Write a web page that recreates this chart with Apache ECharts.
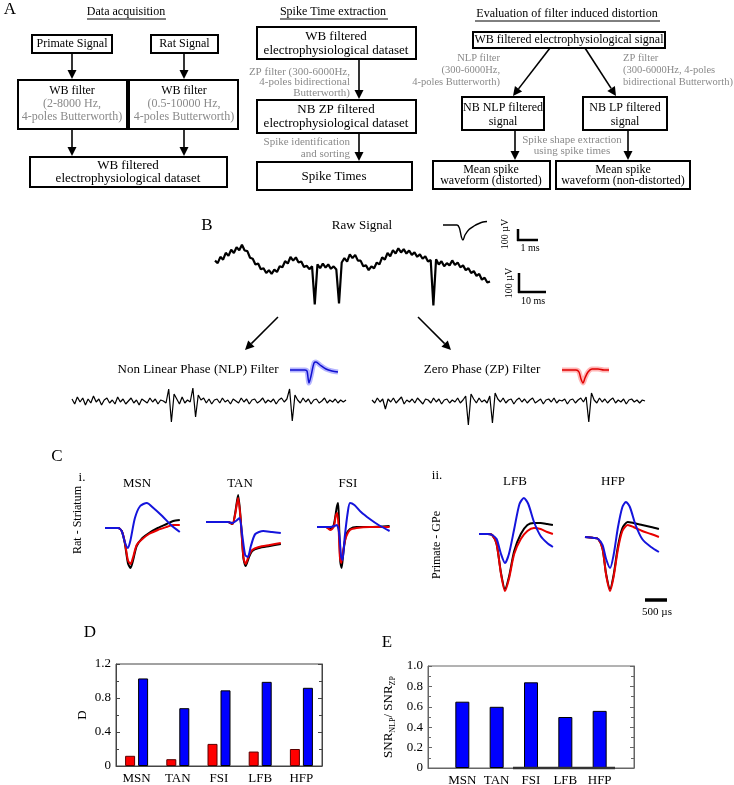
<!DOCTYPE html>
<html><head><meta charset="utf-8">
<script src="https://cdn.jsdelivr.net/npm/echarts@6/dist/echarts.min.js"></script>
<style>html,body{margin:0;padding:0;background:#fff}#c{width:734px;height:785px}</style>
</head><body><div id="c"></div><script>
// ---------------- data ----------------
const categories = ['MSN','TAN','FSI','LFB','HFP'];
const dZP  = [0.12,0.08,0.26,0.17,0.20];
const dNLP = [1.03,0.68,0.89,0.99,0.92];
const snrRatio = [0.65,0.60,0.84,0.50,0.56];
const dTickLabels = ['0','0.4','0.8','1.2'];
const eTickLabels = ['0','0.2','0.4','0.6','0.8','1.0'];

// raw signal, 1 ms steps, µV
const rawSignal = [25,12,45,30,66,50,82,65,95,80,108,78,75,40,35,5,10,-20,-15,-40,-25,-45,-22,-35,-5,-10,22,10,44,25,42,15,20,-8,-2,-20,-5,-205,5,-15,10,-12,5,-18,-5,-22,-200,15,38,20,58,38,55,25,25,-5,0,-25,-5,-15,15,5,42,30,65,48,80,62,90,68,85,62,78,55,68,45,58,35,48,20,28,-210,32,5,22,-5,12,0,26,2,15,-10,0,-25,-15,-40,-30,-55,-45,-75,-65,-90,-85];
const nlpSignal = [10,-15,20,-5,15,-20,10,-10,25,-5,10,-20,5,15,-10,5,-15,20,-5,10,-15,0,15,-10,5,-20,10,0,-10,15,-5,10,-15,5,0,-10,60,-105,35,10,-15,20,-10,5,-5,65,-80,30,5,15,-10,10,-15,5,10,-10,15,-5,5,-15,10,0,-10,15,-5,10,-15,5,10,-10,0,15,-10,5,-5,10,-15,5,15,-5,10,60,-100,30,5,-10,15,-5,10,-15,5,10,-10,0,15,-10,5,-5,10,-10,5,-5,5];
const zpSignal = [5,-10,15,-5,10,-40,10,-5,15,-10,5,20,-15,5,-5,10,-10,15,0,-15,10,5,-10,15,-5,10,-15,5,10,-10,5,-5,15,-10,5,25,-120,35,10,-10,15,-5,5,-10,25,-110,40,10,-5,15,-10,5,10,-15,5,15,-5,10,-10,5,15,-10,0,10,-15,5,10,-5,15,-10,5,0,10,-15,5,10,-10,5,15,-5,20,-105,40,5,-10,15,-5,10,-10,5,15,-10,5,-5,10,-15,5,10,-5,5,-10,5,0];
const rawSpikeIcon = [[0,0],[0.7,0],[0.82,-30],[0.92,-120],[1.0,-150],[1.1,-100],[1.3,-45],[1.55,-10],[1.8,15],[2.0,30],[2.2,35]];
const nlpSpikeIcon = [[0,0],[0.75,0],[0.85,-10],[0.95,-130],[1.05,-60],[1.2,70],[1.3,80],[1.5,50],[1.8,10],[2.1,-10],[2.4,-20]];
const zpSpikeIcon  = [[0,0],[0.7,0],[0.85,-20],[0.95,-90],[1.05,-130],[1.15,-80],[1.3,-20],[1.5,10],[1.8,10],[2.1,0],[2.35,0]];

// mean waveforms (ms, relative amplitude)
const msnBlack = [[0,0],[0.3,0],[0.38,-3],[0.45,-15],[0.52,-35],[0.58,-40],[0.64,-32],[0.72,-18],[0.85,-10],[1.0,-5],[1.2,0],[1.4,4],[1.55,7],[1.7,8]];
const msnRed   = [[0,0],[0.3,0],[0.38,-3],[0.45,-14],[0.52,-32],[0.58,-36],[0.64,-29],[0.72,-17],[0.85,-11],[1.0,-6],[1.2,-2],[1.4,1],[1.55,3],[1.7,3]];
const msnBlue  = [[0,0],[0.3,0],[0.38,-3],[0.45,-14],[0.52,-20],[0.58,-12],[0.68,10],[0.8,22],[0.95,25],[1.1,20],[1.3,12],[1.5,3],[1.7,-4]];
const tanBlack = [[0,0],[0.5,0],[0.6,-2],[0.66,8],[0.73,27],[0.79,2],[0.85,-36],[0.9,-44],[0.97,-36],[1.05,-29],[1.2,-26],[1.45,-24],[1.7,-22]];
const tanRed   = [[0,0],[0.5,0],[0.6,-2],[0.66,7],[0.73,24],[0.79,1],[0.85,-35],[0.9,-42],[0.97,-34],[1.05,-28],[1.2,-25],[1.45,-23],[1.7,-21]];
const tanBlue  = [[0,0],[0.5,0],[0.6,-1],[0.68,1],[0.76,4],[0.82,-12],[0.89,-33],[0.95,-35],[1.02,-24],[1.12,-12],[1.3,-9],[1.5,-10],[1.7,-11]];
const fsiBlack = [[0,0],[0.2,0],[0.3,-2],[0.38,2],[0.45,20],[0.48,24],[0.5,5],[0.53,-35],[0.56,-41],[0.6,-25],[0.66,-8],[0.75,-2],[0.9,0],[1.2,0],[1.65,1]];
const fsiRed   = [[0,0],[0.2,0],[0.3,-3],[0.38,0],[0.43,12],[0.46,14],[0.49,0],[0.52,-30],[0.55,-36],[0.6,-22],[0.66,-10],[0.75,-3],[0.9,-1],[1.2,0],[1.65,0]];
const fsiBlue  = [[0,0],[0.2,0],[0.3,0],[0.4,1],[0.45,2],[0.5,-5],[0.55,-30],[0.58,-33],[0.63,-10],[0.7,15],[0.75,24],[0.85,22],[1.0,15],[1.2,8],[1.4,2],[1.65,-4]];
const lfbBlack = [[0,0],[0.2,0],[0.3,-1],[0.4,-10],[0.5,-39],[0.59,-55],[0.68,-43],[0.8,-17],[0.95,0],[1.1,9],[1.25,11],[1.4,11],[1.55,10],[1.68,9]];
const lfbRed   = [[0,0],[0.2,0],[0.3,-1],[0.4,-10],[0.5,-40],[0.59,-57],[0.68,-45],[0.8,-20],[0.95,-5],[1.1,3],[1.25,6],[1.4,5],[1.55,2],[1.68,0]];
const lfbBlue  = [[0,0],[0.2,0],[0.3,-1],[0.4,-5],[0.5,-20],[0.59,-29],[0.68,-20],[0.8,5],[0.92,30],[1.02,36],[1.12,30],[1.25,12],[1.4,-2],[1.55,-9],[1.68,-13]];
const hfpBlack = [[0,0],[0.2,-1],[0.3,-2],[0.4,-12],[0.48,-37],[0.57,-52],[0.65,-38],[0.75,-9],[0.85,9],[0.97,15],[1.1,14],[1.3,12],[1.5,10],[1.68,8]];
const hfpRed   = [[0,0],[0.2,-1],[0.3,-2],[0.4,-12],[0.48,-38],[0.57,-54],[0.65,-40],[0.75,-12],[0.85,6],[0.97,12],[1.1,10],[1.3,6],[1.5,3],[1.68,0]];
const hfpBlue  = [[0,0],[0.2,-1],[0.3,-2],[0.4,-8],[0.48,-22],[0.57,-31],[0.65,-18],[0.75,10],[0.85,30],[0.93,35],[1.02,30],[1.15,12],[1.3,-2],[1.5,-10],[1.68,-15]];

// ---------------- helpers ----------------
const SERIF = '"Liberation Serif","DejaVu Serif",serif';
const GRAY = '#8a8a8a';
const RED = '#e80000', BLUE = '#1414dc';
const G = [];
function txt(x,y,text,size,o){o=o||{};return {type:'text',x:x,y:y,rotation:o.rot||0,z:20,style:{text:text,font:size+'px '+SERIF,fill:o.fill||'#000',align:o.align||'center',verticalAlign:'middle'}};}
function box(x1,y1,x2,y2){return {type:'rect',z:10,shape:{x:x1,y:y1,width:x2-x1,height:y2-y1},style:{fill:'none',stroke:'#000',lineWidth:2}};}
function ln(x1,y1,x2,y2,w,c){return {type:'line',z:10,shape:{x1:x1,y1:y1,x2:x2,y2:y2},style:{stroke:c||'#000',lineWidth:w||1.5}};}
function arrow(x1,y1,x2,y2,w){const dx=x2-x1,dy=y2-y1,L=Math.hypot(dx,dy),ux=dx/L,uy=dy/L,h=9,hw=4.5;const bx=x2-ux*h,by=y2-uy*h;
  G.push(ln(x1,y1,bx,by,w||1.6));
  G.push({type:'polygon',z:10,shape:{points:[[x2,y2],[bx-uy*hw,by+ux*hw],[bx+uy*hw,by-ux*hw]]},style:{fill:'#000'}});}

// ---- Panel A ----
G.push(txt(10,10,'A',17));
G.push(txt(126,12,'Data acquisition',12)); G.push(ln(87,19,166,19,1));
G.push(txt(333,12,'Spike Time extraction',12)); G.push(ln(280,19,388,19,1));
G.push(txt(567,14,'Evaluation of filter induced distortion',12)); G.push(ln(475,21,660,21,1));
// left column
G.push(box(32,35,112,53)); G.push(txt(72,44,'Primate Signal',12));
G.push(box(151,35,218,53)); G.push(txt(184.5,44,'Rat Signal',12));
arrow(72,53,72,79); arrow(184,53,184,79);
G.push(box(18,80,127,129)); G.push(txt(72,91,'WB filter',12)); G.push(txt(72,104,'(2-8000 Hz,',12,{fill:GRAY})); G.push(txt(72,117,'4-poles Butterworth)',12,{fill:GRAY}));
G.push(box(129,80,238,129)); G.push(txt(184,91,'WB filter',12)); G.push(txt(184,104,'(0.5-10000 Hz,',12,{fill:GRAY})); G.push(txt(184,117,'4-poles Butterworth)',12,{fill:GRAY}));
arrow(72,129,72,156); arrow(184,129,184,156);
G.push(box(30,157,227,187)); G.push(txt(128,166,'WB filtered',13)); G.push(txt(128,179,'electrophysiological dataset',13));
// middle column
G.push(box(257,27,416,59)); G.push(txt(336,37,'WB filtered',13)); G.push(txt(336,51,'electrophysiological dataset',13));
arrow(359,59,359,99);
G.push(txt(350,72,'ZP filter (300-6000Hz,',11,{fill:GRAY,align:'right'}));
G.push(txt(350,82,'4-poles bidirectional',11,{fill:GRAY,align:'right'}));
G.push(txt(350,93,'Butterworth)',11,{fill:GRAY,align:'right'}));
G.push(box(257,100,416,133)); G.push(txt(336,110,'NB ZP filtered',13)); G.push(txt(336,124,'electrophysiological dataset',13));
arrow(359,133,359,161);
G.push(txt(350,142,'Spike identification',11,{fill:GRAY,align:'right'}));
G.push(txt(350,154,'and sorting',11,{fill:GRAY,align:'right'}));
G.push(box(257,162,412,190)); G.push(txt(334,177,'Spike Times',13));
// right column
G.push(box(473,32,665,48)); G.push(txt(569,40,'WB filtered electrophysiological signal',12));
arrow(550,48,513,96); arrow(585,48,616,96);
G.push(txt(500,58,'NLP filter',10.5,{fill:GRAY,align:'right'}));
G.push(txt(500,70,'(300-6000Hz,',10.5,{fill:GRAY,align:'right'}));
G.push(txt(500,82,'4-poles Butterworth)',10.5,{fill:GRAY,align:'right'}));
G.push(txt(623,58,'ZP filter',10.5,{fill:GRAY,align:'left'}));
G.push(txt(623,70,'(300-6000Hz, 4-poles',10.5,{fill:GRAY,align:'left'}));
G.push(txt(623,82,'bidirectional Butterworth)',10.5,{fill:GRAY,align:'left'}));
G.push(box(462,97,544,130)); G.push(txt(503,108,'NB NLP filtered',12)); G.push(txt(503,122,'signal',12));
G.push(box(583,97,667,130)); G.push(txt(625,108,'NB LP filtered',12)); G.push(txt(625,122,'signal',12));
arrow(515,130,515,160); arrow(628,130,628,160);
G.push(txt(572,140,'Spike shape extraction',11,{fill:GRAY}));
G.push(txt(572,151,'using spike times',11,{fill:GRAY}));
G.push(box(433,161,550,189)); G.push(txt(491,170,'Mean spike',12)); G.push(txt(491,181,'waveform (distorted)',12));
G.push(box(556,161,690,189)); G.push(txt(623,170,'Mean spike',12)); G.push(txt(623,181,'waveform (non-distorted)',12));

// ---- Panel B ----
G.push(txt(207,226,'B',17));
G.push(txt(362,226,'Raw Signal',13));
G.push(ln(518,229,518,241,2.5)); G.push(ln(517,240,538,240,2.5));
G.push(txt(505,234,'100 µV',10,{rot:Math.PI/2}));
G.push(txt(530,248,'1 ms',10));
G.push(ln(519,273,519,293,2.5)); G.push(ln(518,292,546,292,2.5));
G.push(txt(509,283,'100 µV',10,{rot:Math.PI/2}));
G.push(txt(533,301,'10 ms',10));
arrow(278,317,245,350,1.5); arrow(418,317,451,350,1.5);
G.push(txt(198,370,'Non Linear Phase (NLP) Filter',13));
G.push(txt(482,370,'Zero Phase (ZP) Filter',13));

// ---- Panel C ----
G.push(txt(57,457,'C',17));
G.push(txt(82,478,'i.',13)); G.push(txt(437,476,'ii.',13));
G.push(txt(137,484,'MSN',13)); G.push(txt(240,484,'TAN',13)); G.push(txt(348,484,'FSI',13));
G.push(txt(515,482,'LFB',13)); G.push(txt(613,482,'HFP',13));
G.push(txt(78,520,'Rat - Striatum',12,{rot:Math.PI/2}));
G.push(txt(437,545,'Primate - GPe',12,{rot:Math.PI/2}));
G.push(ln(645,600,667,600,3.5)); G.push(txt(657,612,'500 µs',11));

// ---- D, E labels ----
G.push(txt(90,633,'D',17)); G.push(txt(387,643,'E',17));
G.push(ln(513,768,615,768,2.5,'#333'));

// ---------------- charts ----------------
const grids=[], xAxes=[], yAxes=[], series=[];
function addGrid(left,top,width,height,xmin,xmax,ymin,ymax){
  const i=grids.length;
  grids.push({left:left,top:top,width:width,height:height,containLabel:false,outerBoundsMode:'none'});
  xAxes.push({gridIndex:i,type:'value',min:xmin,max:xmax,show:false});
  yAxes.push({gridIndex:i,type:'value',min:ymin,max:ymax,show:false});
  return i;
}
function addLine(i,data,color,width,smooth,extra){
  series.push(Object.assign({type:'line',xAxisIndex:i,yAxisIndex:i,data:data,symbol:'none',showSymbol:false,smooth:smooth||false,
    lineStyle:{color:color,width:width},silent:true,animation:false},extra||{}));
}
const withTime = arr => arr.map((v,i)=>[i,v]);
// B traces
let gi = addGrid(215,233,275,80,0,rawSignal.length-1,-250,170);
addLine(gi,withTime(rawSignal),'#000',2.2);
gi = addGrid(72,383,274,44,0,nlpSignal.length-1,-130,90);
addLine(gi,withTime(nlpSignal),'#000',1.2);
gi = addGrid(372,383,273,44,0,zpSignal.length-1,-130,90);
addLine(gi,withTime(zpSignal),'#000',1.2);
gi = addGrid(443,215,44,30,0,2.2,-200,100);
addLine(gi,rawSpikeIcon,'#000',1.4,0.3);
gi = addGrid(290,355,48,35,0,2.4,-200,150);
addLine(gi,nlpSpikeIcon,'rgba(90,90,255,0.45)',5,0.3);
addLine(gi,nlpSpikeIcon,'#1010d0',1.5,0.3);
gi = addGrid(562,355,47,35,0,2.35,-200,150);
addLine(gi,zpSpikeIcon,'rgba(255,90,90,0.45)',5,0.3);
addLine(gi,zpSpikeIcon,'#e00000',1.5,0.3);
// C waveforms
const panels = [
  [105,528,1.7,msnBlack,msnRed,msnBlue],
  [206,522,1.7,tanBlack,tanRed,tanBlue],
  [317,527,1.65,fsiBlack,fsiRed,fsiBlue],
  [479,534,1.68,lfbBlack,lfbRed,lfbBlue],
  [585,537,1.68,hfpBlack,hfpRed,hfpBlue]
];
panels.forEach(p=>{
  const i = addGrid(p[0],p[1]-40,p[2]*44,100,0,p[2],-60,40);
  addLine(i,p[3],'#000',2,0.25);
  addLine(i,p[4],RED,2,0.25);
  addLine(i,p[5],BLUE,2,0.25);
});
// D bar chart
const axisCol='#444';
const dIdx = grids.length;
grids.push({left:116,top:664,width:206,height:102,containLabel:false,outerBoundsMode:'none',show:true,borderColor:axisCol,borderWidth:1});
xAxes.push({gridIndex:dIdx,type:'category',data:categories,axisTick:{show:false},axisLine:{lineStyle:{color:axisCol}},
  axisLabel:{color:'#000',fontFamily:SERIF,fontSize:13,margin:6}});
yAxes.push({gridIndex:dIdx,type:'value',min:0,max:1.2,interval:0.4,name:'D',nameLocation:'middle',nameGap:27,nameRotate:90,
  nameTextStyle:{fontFamily:SERIF,fontSize:13,color:'#000'},
  axisLine:{show:true,lineStyle:{color:axisCol}},axisTick:{show:true,inside:true,length:4,lineStyle:{color:axisCol}},
  minorTick:{show:true,splitNumber:2,length:3,lineStyle:{color:axisCol}},splitLine:{show:false},
  axisLabel:{color:'#000',fontFamily:SERIF,fontSize:13,margin:5,formatter:v=>dTickLabels[Math.round(v/0.4)]}});
yAxes.push({gridIndex:dIdx,type:'value',position:'right',min:0,max:1.2,interval:0.4,
  axisLine:{show:true,lineStyle:{color:axisCol}},axisTick:{show:true,inside:true,length:4,lineStyle:{color:axisCol}},
  minorTick:{show:true,splitNumber:2,length:3,lineStyle:{color:axisCol}},splitLine:{show:false},axisLabel:{show:false}});
series.push({type:'bar',xAxisIndex:dIdx,yAxisIndex:dIdx,data:dZP,barWidth:10,barGap:'30%',animation:false,
  itemStyle:{color:'#ff0000',borderColor:'#5a0000',borderWidth:1}});
series.push({type:'bar',xAxisIndex:dIdx,yAxisIndex:dIdx,data:dNLP,barWidth:10,barGap:'30%',animation:false,
  itemStyle:{color:'#0000ff',borderColor:'#000',borderWidth:1}});
// E bar chart
const eIdx = grids.length;
grids.push({left:428,top:666,width:206,height:102,containLabel:false,outerBoundsMode:'none',show:true,borderColor:'#666',borderWidth:1});
xAxes.push({gridIndex:eIdx,type:'value',min:0,max:categories.length+1,interval:1,splitLine:{show:false},axisTick:{show:false},
  axisLine:{lineStyle:{color:'#666'}},
  axisLabel:{color:'#000',fontFamily:SERIF,fontSize:13,margin:6,formatter:v=>categories[v-1]||''}});
const eY = yAxes.length;
yAxes.push({gridIndex:eIdx,type:'value',min:0,max:1.0,interval:0.2,name:'{a|SNR}{s|NLP}{a|/ SNR}{s|ZP}',nameLocation:'middle',nameGap:31,nameRotate:90,
  nameTextStyle:{color:'#000',rich:{a:{fontFamily:SERIF,fontSize:13,lineHeight:16,color:'#000'},s:{fontFamily:SERIF,fontSize:8,lineHeight:9,verticalAlign:'bottom',color:'#000'}}},
  axisLine:{show:true,lineStyle:{color:'#666'}},axisTick:{show:true,inside:true,length:4,lineStyle:{color:'#666'}},
  minorTick:{show:true,splitNumber:2,length:3,lineStyle:{color:'#666'}},splitLine:{show:false},
  axisLabel:{color:'#000',fontFamily:SERIF,fontSize:13,margin:5,formatter:v=>eTickLabels[Math.round(v/0.2)]}});
yAxes.push({gridIndex:eIdx,type:'value',position:'right',min:0,max:1.0,interval:0.2,
  axisLine:{show:true,lineStyle:{color:'#666'}},axisTick:{show:true,inside:true,length:4,lineStyle:{color:'#666'}},
  minorTick:{show:true,splitNumber:2,length:3,lineStyle:{color:'#666'}},splitLine:{show:false},axisLabel:{show:false}});
series.push({type:'bar',xAxisIndex:eIdx,yAxisIndex:eY,data:snrRatio.map((v,i)=>[i+1,v]),barWidth:14,animation:false,
  itemStyle:{color:'#0000ff',borderColor:'#000',borderWidth:1}});

const chart = echarts.init(document.getElementById('c'),null,{renderer:'canvas'});
chart.setOption({backgroundColor:'#fff',animation:false,grid:grids,xAxis:xAxes,yAxis:yAxes,series:series,graphic:{elements:G}});
</script></body></html>
